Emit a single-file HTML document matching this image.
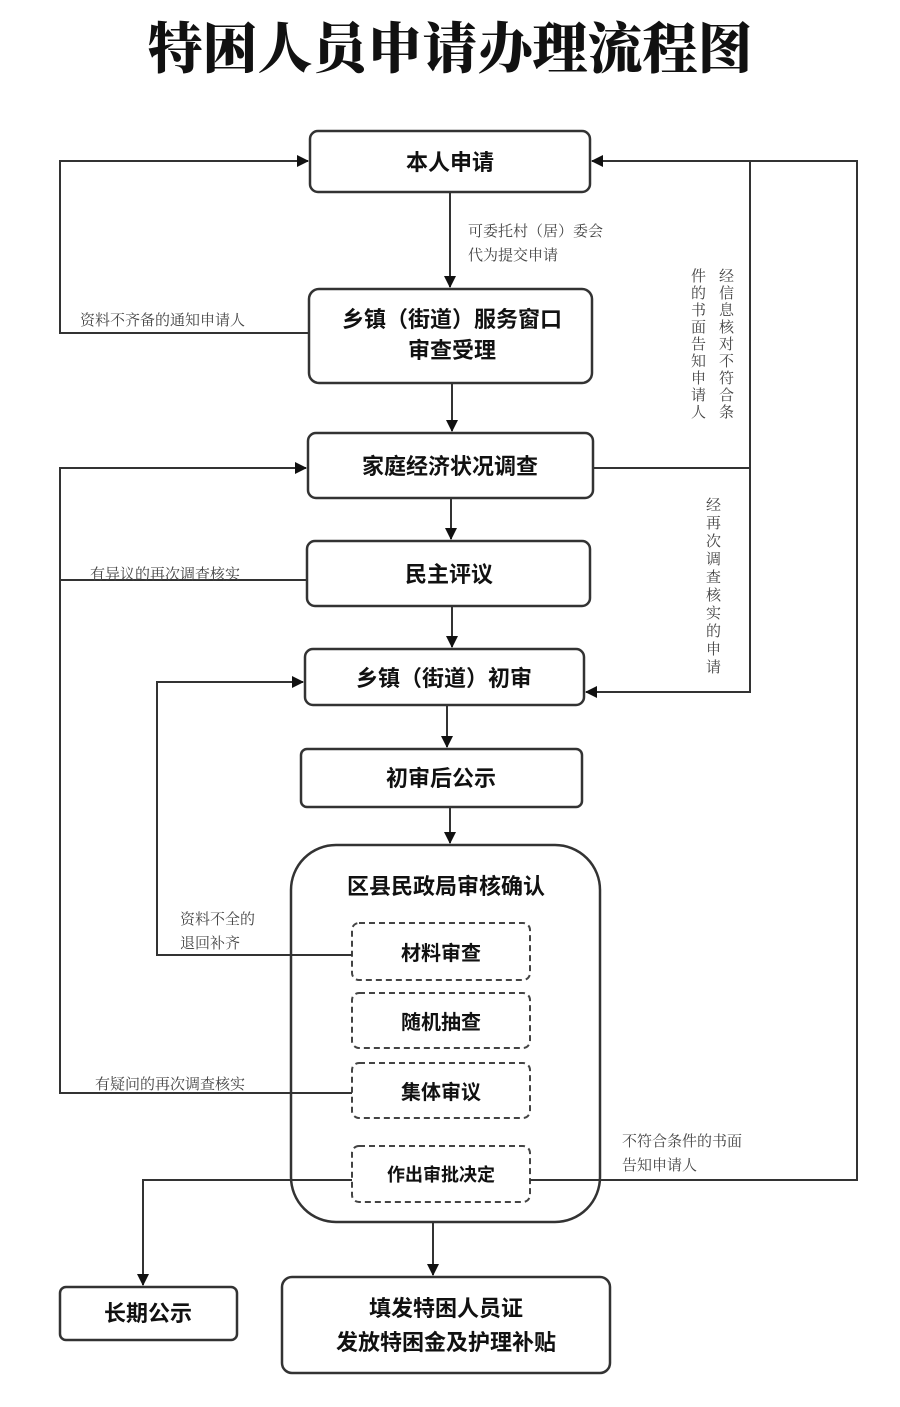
<!DOCTYPE html>
<html><head><meta charset="utf-8"><style>
body{margin:0;background:#fff;}
svg{display:block}
.b{font-family:"Liberation Sans","Noto Sans CJK SC",sans-serif;font-weight:bold;fill:#111;text-anchor:middle}
.s{font-family:"Liberation Serif","Noto Serif CJK SC",serif;fill:#444;font-size:15px}
</style></head><body>
<svg width="900" height="1407" viewBox="0 0 900 1407" xmlns="http://www.w3.org/2000/svg">
<defs><marker id="a" markerWidth="12" markerHeight="12" refX="11" refY="6" orient="auto" markerUnits="userSpaceOnUse"><path d="M0,0 L12,6 L0,12 z" fill="#111"/></marker></defs>
<text x="450" y="68" class="b" style="font-family:'Noto Serif CJK SC',serif;font-size:55px;font-weight:900">特困人员申请办理流程图</text>
<g fill="none" stroke="#333" stroke-width="2.5">
<rect x="310" y="131" width="280" height="61" rx="8"/>
<rect x="309" y="289" width="283" height="94" rx="10"/>
<rect x="308" y="433" width="285" height="65" rx="8"/>
<rect x="307" y="541" width="283" height="65" rx="8"/>
<rect x="305" y="649" width="279" height="56" rx="8"/>
<rect x="301" y="749" width="281" height="58" rx="6"/>
<rect x="291" y="845" width="309" height="377" rx="45"/>
<rect x="60" y="1287" width="177" height="53" rx="6"/>
<rect x="282" y="1277" width="328" height="96" rx="10"/>
</g>
<g fill="none" stroke="#444" stroke-width="2" stroke-dasharray="6,4">
<rect x="352" y="923" width="178" height="57" rx="7"/>
<rect x="352" y="993" width="178" height="55" rx="7"/>
<rect x="352" y="1063" width="178" height="55" rx="7"/>
<rect x="352" y="1146" width="178" height="56" rx="7"/>
</g>
<g fill="none" stroke="#333" stroke-width="2">
<path d="M450,192 V287" marker-end="url(#a)"/>
<path d="M452,383 V431" marker-end="url(#a)"/>
<path d="M451,498 V539" marker-end="url(#a)"/>
<path d="M452,606 V647" marker-end="url(#a)"/>
<path d="M447,705 V747" marker-end="url(#a)"/>
<path d="M450,807 V843" marker-end="url(#a)"/>
<path d="M433,1222 V1275" marker-end="url(#a)"/>
<path d="M309,333 H60 V161 H308" marker-end="url(#a)"/>
<path d="M352,1093 H60 V468 H306" marker-end="url(#a)"/>
<path d="M307,580 H60"/>
<path d="M352,955 H157 V682 H303" marker-end="url(#a)"/>
<path d="M530,1180 H857 V161 H592" marker-end="url(#a)"/>
<path d="M593,468 H750 V692 H586" marker-end="url(#a)"/>
<path d="M750,468 V161"/>
<path d="M352,1180 H143 V1285" marker-end="url(#a)"/>
</g>
<g class="b" font-size="22">
<text x="450" y="170">本人申请</text>
<text x="452" y="327">乡镇（街道）服务窗口</text>
<text x="452" y="358">审查受理</text>
<text x="450" y="474">家庭经济状况调查</text>
<text x="449" y="582">民主评议</text>
<text x="444" y="686">乡镇（街道）初审</text>
<text x="441" y="786">初审后公示</text>
<text x="446" y="894">区县民政局审核确认</text>
<text x="441" y="960" font-size="20">材料审查</text>
<text x="441" y="1029" font-size="20">随机抽查</text>
<text x="441" y="1099" font-size="20">集体审议</text>
<text x="441" y="1181" font-size="18">作出审批决定</text>
<text x="148" y="1321">长期公示</text>
<text x="446" y="1316">填发特困人员证</text>
<text x="446" y="1350">发放特困金及护理补贴</text>
</g>
<g class="s">
<text x="468" y="236">可委托村（居）委会</text>
<text x="468" y="260">代为提交申请</text>
<text x="80" y="325">资料不齐备的通知申请人</text>
<text x="90" y="579">有异议的再次调查核实</text>
<text x="180" y="924">资料不全的</text>
<text x="180" y="948">退回补齐</text>
<text x="95" y="1089">有疑问的再次调查核实</text>
<text x="622" y="1146">不符合条件的书面</text>
<text x="622" y="1170">告知申请人</text>
<text x="725" y="268" style="writing-mode:tb;glyph-orientation-vertical:0" letter-spacing="2">经信息核对不符合条</text>
<text x="697" y="268" style="writing-mode:tb;glyph-orientation-vertical:0" letter-spacing="2">件的书面告知申请人</text>
<text x="712" y="497" style="writing-mode:tb;glyph-orientation-vertical:0" letter-spacing="3">经再次调查核实的申请</text>
</g>
</svg>
</body></html>
